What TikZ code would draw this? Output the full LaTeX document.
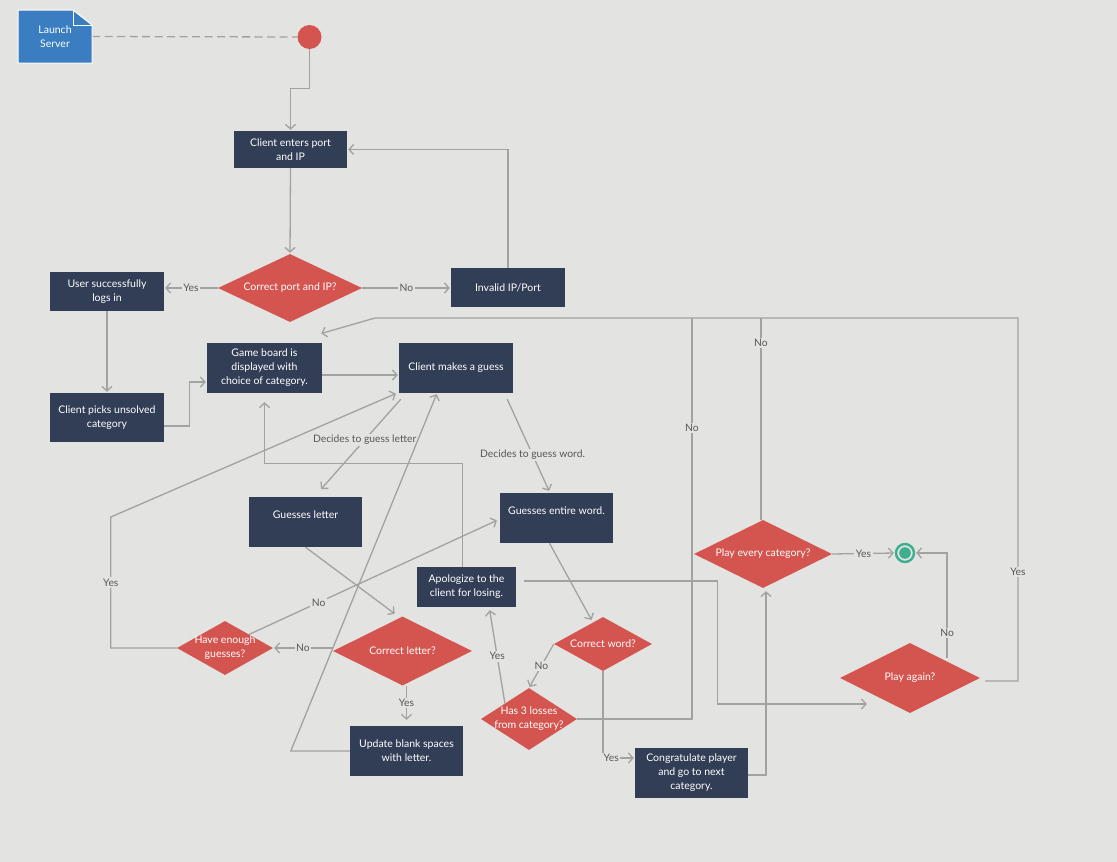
\documentclass[tikz,border=0pt]{standalone}
\usepackage{fontspec}
\setmainfont{Lato}
\usetikzlibrary{shapes.geometric,arrows.meta,calc}
\definecolor{canvas}{HTML}{E3E3E1}
\definecolor{navy}{HTML}{323D56}
\definecolor{decred}{HTML}{D4544F}
\definecolor{wire}{HTML}{A2A2A2}
\definecolor{labgray}{HTML}{585858}
\definecolor{noteblue}{HTML}{3A7DC0}
\definecolor{endteal}{HTML}{3DAF8F}
\pgfdeclarelayer{paper}
\pgfdeclarelayer{edges}
\pgfsetlayers{paper,edges,main}

\begin{document}
\begin{tikzpicture}[x=1pt,y=-1pt,
  wire/.style={draw=wire, line width=1.3pt},
  flow/.style={wire, -{Straight Barb[length=4.5pt,width=10pt]}, shorten >=1pt},
  lab/.style={fill=canvas, text=labgray, font=\fontsize{10.3}{12}\selectfont, inner sep=1.5pt},
  box/.style={rectangle, fill=navy, text=white, font=\fontsize{10.5}{14}\selectfont,
    align=center, inner sep=2pt},
  dec/.style={diamond, fill=decred, inner sep=0pt},
  dtext/.style={text=white, font=\fontsize{10.5}{14}\selectfont, align=center, inner sep=0pt}]

\begin{pgfonlayer}{paper}
  \fill[canvas] (0,0) rectangle (1117,862);
\end{pgfonlayer}
\useasboundingbox (0,0) rectangle (1117,862);

% server note with folded corner
\filldraw[fill=noteblue, draw=white, line width=1pt]
  (18,10) -- (73,10) -- (92,25) -- (92,63) -- (18,63) -- cycle;
\draw[white, line width=1pt] (73,10) -- (73,25) -- (92,25);
\node[text=white, font=\fontsize{10.5}{14}\selectfont, align=center,
  minimum width=74pt, minimum height=53pt] (launch) at (55,36.5) {Launch\\Server};

% start and end markers
\node[circle, fill=decred, minimum size=24pt, inner sep=0pt] (start) at (309.5,37) {};
\node[circle, draw=endteal, line width=2.4pt, fill=canvas, minimum size=18pt, inner sep=0pt,
  path picture={\fill[endteal] (path picture bounding box.center) circle (5.8pt);}]
  (endc) at (905,553) {};

% action boxes
\node[box, minimum width=113pt, minimum height=37pt] (enter) at (290.5,149.5) {Client enters port\\and IP};
\node[box, minimum width=114pt, minimum height=39pt] (user) at (107,291.5) {User successfully\\logs in};
\node[box, minimum width=114pt, minimum height=39pt] (invalid) at (508,287.5) {Invalid IP/Port};
\node[box, minimum width=114pt, minimum height=49pt] (pick) at (107,417.5) {Client picks unsolved\\category};
\node[box, minimum width=115pt, minimum height=50pt] (board) at (264.5,368) {Game board is\\displayed with\\choice of category.};
\node[box, minimum width=114pt, minimum height=50pt] (guess) at (456,368) {Client makes a guess};
\node[box, minimum width=113pt, minimum height=50pt] (gletter) at (305.5,522) {Guesses letter\\ \mbox{}};
\node[box, minimum width=113pt, minimum height=50pt] (gword) at (556.5,518) {Guesses entire word.\\ \mbox{}};
\node[box, minimum width=99pt, minimum height=40pt] (apolog) at (466.5,587) {Apologize to the\\client for losing.};
\node[box, minimum width=113pt, minimum height=50pt] (update) at (406.5,751) {Update blank spaces\\with letter.};
\node[box, minimum width=113pt, minimum height=50pt] (congr) at (691.5,773) {Congratulate player\\and go to next\\category.};

% decisions
\node[dec, minimum width=144pt, minimum height=68pt, label={[dtext]center:Correct port and IP?}] (cport) at (290,288) {};
\node[dec, minimum width=139pt, minimum height=69pt, label={[dtext]center:Correct letter?}] (cletter) at (402.5,651) {};
\node[dec, minimum width=96pt, minimum height=54pt, label={[dtext]center:{Have enough\\guesses?}}] (enough) at (225,648) {};
\node[dec, minimum width=98pt, minimum height=54pt, label={[dtext]center:Correct word?}] (cword) at (603,644) {};
\node[dec, minimum width=96pt, minimum height=62pt, label={[dtext]center:{Has 3 losses\\from category?}}] (losses) at (529,719) {};
\node[dec, minimum width=138pt, minimum height=68pt, label={[dtext]center:Play every category?}] (every) at (763,554) {};
\node[dec, minimum width=140pt, minimum height=70pt, label={[dtext]center:Play again?}] (again) at (910,678) {};

\coordinate (topR) at (1018,318);
\coordinate (topL) at (375,318);

\begin{pgfonlayer}{edges}
  \draw[wire, dash pattern=on 8pt off 4.5pt] (launch.east) -- (start.west);
  \draw[flow] (start.south) |- ($(enter.north)+(0,-42)$) -- (enter.north);
  \draw[flow] (enter.south) -- (cport.north);
  \draw[flow] (cport.west) -- node[lab]{Yes} (cport.west -| user.east);
  \draw[flow] (cport.east) -- node[lab]{No} (cport.east -| invalid.west);
  \draw[flow] (invalid.north) |- (enter.east);
  \draw[flow] (user.south) -- (pick.north);
  \draw[flow] ($(pick.east)+(0,8.5)$) -- ++(25,0) |- ($(board.west)+(0,14)$);
  \draw[flow] ($(board.east)+(0,7)$) -- ($(guess.west)+(0,7)$);
  \draw[flow] ($(guess.south west)+(2,6)$) -- node[lab,pos=0.45]{Decides to guess letter} ($(gletter.north)+(15,-7)$);
  \draw[flow] ($(guess.south east)+(-6,6)$) -- node[lab,pos=0.6]{Decides to guess word.} ($(gword.north)+(-7,-1)$);
  \draw[flow] (gletter.south) -- ($(cletter.north)+(-7,-2)$);
  \draw[flow] ($(gword.south)+(-7,0)$) -- ($(cword.north)+(-11,4)$);
  \draw[flow] (cletter.west |- enough.east) -- node[lab]{No} (enough.east);
  \draw[flow] (update.north |- cletter.south) -- node[lab]{Yes} ($(update.north)+(0,-5)$);
  \draw[flow] (update.west) -- ++(-59,0) -- ($(guess.south)+(-19,0)$);
  \draw[flow] (enough.west) -- ++(-66,0) -- node[lab]{Yes} ++(0,-131) -- ($(guess.south west)+(-2,0)$);
  \draw[flow] (enough.north east) -- node[lab,pos=0.28]{No} ($(gword.west)+(-2,2)$);
  \draw[flow] (cword.west) -- node[lab]{No} (losses.north);
  \draw[flow] (cword.south) |- node[lab,pos=0.63]{Yes} ($(congr.west)+(0,-15)$);
  \draw[flow] ($(congr.east)+(0,2)$) -| ($(every.south)+(3,2)$);
  \draw[flow] (every.east) -- node[lab]{Yes} (endc.west);
  \draw[flow] ($(again.east)+(5,3)$) -| node[lab,pos=0.65]{Yes} (topR) -- (topL) -- ($(board.north east)+(-2,-9)$);
  \draw[wire] ($(every.north)+(-2,0)$) -- node[lab,pos=0.876]{No} ($(every.north |- topL)+(-2,0)$);
  \draw[wire] (losses.east) -| node[lab,pos=0.863]{No} ($(topL)+(317,0)$);
  \draw[flow] (losses.north west) -- node[lab]{Yes} ($(apolog.south)+(23,2)$);
  \draw[flow] ($(apolog.north)+(-4,0)$) |- ($(board.south)+(0,70)$) -- ($(board.south)+(0,8)$);
  \draw[flow] ($(apolog.east)+(8,-6)$) -| ($(again.west)+(-122,26)$) -- ($(again.west)+(28,26)$);
  \draw[flow] ($(again.north east)+(2,-2)$) |- node[lab,pos=0.12]{No} (endc.east);
\end{pgfonlayer}
\end{tikzpicture}
\end{document}
